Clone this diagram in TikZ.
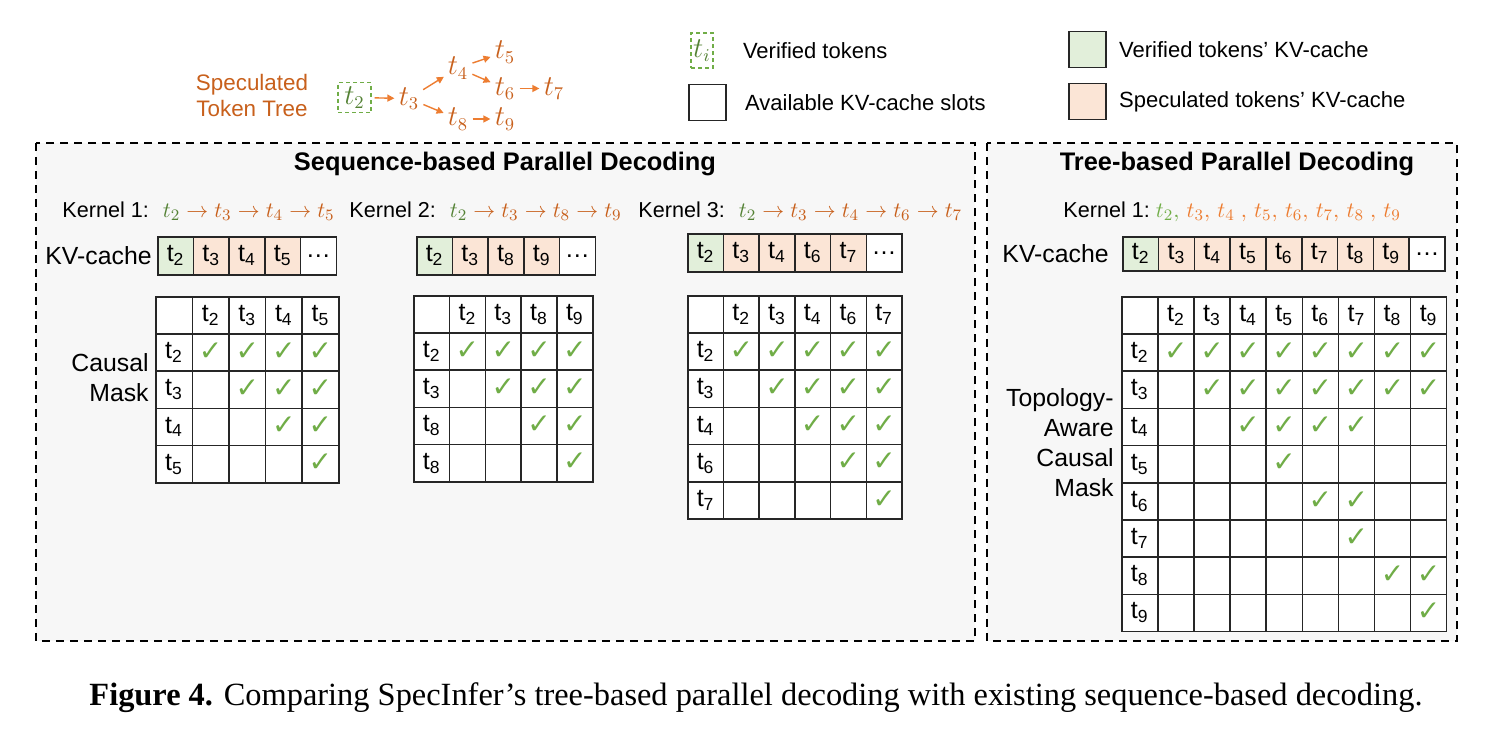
\documentclass[tikz,border=0pt]{standalone}
\usepackage{fontspec}
\setmainfont{Liberation Sans}
\newfontfamily\symfont{DejaVu Sans}
\newfontfamily\capfont{Liberation Serif}
\usetikzlibrary{positioning,arrows.meta}

\definecolor{vgreen}{HTML}{548235}
\definecolor{lgreen}{HTML}{70AD47}
\definecolor{sorange}{HTML}{C8601C}
\definecolor{lorange}{HTML}{ED7D31}
\definecolor{vfill}{HTML}{E2EFDA}
\definecolor{sfill}{HTML}{FBE5D6}
\definecolor{panelbg}{HTML}{F7F7F7}
\definecolor{gridline}{HTML}{262626}

\def\px{0.5pt}

% causal mask grid: name, x, y, cell width, column tokens, row tokens
\newcommand\maskgrid[6]{%
  \node[cell,minimum width=#4*\px] (#1-0-0) at (#2,#3) {};
  \foreach \tk [count=\cc] in {#5}
    \node[cell,minimum width=#4*\px] (#1-0-\cc) at ({#2+\cc*#4},#3) {t\textsubscript{\tk}};
  \foreach \tk [count=\rr] in {#6} {
    \node[cell,minimum width=#4*\px] (#1-\rr-0) at (#2,{#3+\rr*37.2}) {t\textsubscript{\tk}};
    \foreach \tj [count=\cc] in {#5}
      \node[cell,minimum width=#4*\px] (#1-\rr-\cc) at ({#2+\cc*#4},{#3+\rr*37.2}) {};
  }%
}
% checks on and above the diagonal
\newcommand\uppermask[2]{%
  \foreach \rr in {1,...,#2}
    \foreach \cc in {\rr,...,#2}
      \node[chk] (#1-\rr-\cc-ok) at (#1-\rr-\cc) {✓};%
}

\begin{document}
\begin{tikzpicture}[x=0.5pt,y=-0.5pt]
    \tikzset{
      panel/.style={draw,dashed,line width=1pt,dash pattern=on 4pt off 3pt,fill=panelbg},
      cell/.style={draw=gridline,line width=0.75pt,fill=white,anchor=north west,
                   minimum height=37.2*\px,inner sep=0pt,font=\fontsize{12.5}{14}\selectfont},
      kv/.style={draw=gridline,line width=0.75pt,anchor=north west,minimum width=35.7*\px,
                 minimum height=38*\px,inner sep=0pt,font=\fontsize{12.5}{14}\selectfont},
      chk/.style={text=lgreen,inner sep=0pt,yshift=0.5pt,font=\symfont\bfseries\fontsize{14}{14}\selectfont},
      title/.style={font=\bfseries\fontsize{12.7}{15}\selectfont},
      kern/.style={anchor=west,inner sep=0pt,font=\fontsize{10.8}{13}\selectfont},
      biglbl/.style={inner sep=0pt,font=\fontsize{12.4}{15}\selectfont},
      legtxt/.style={inner sep=0pt,font=\fontsize{11}{13}\selectfont},
      legbox/.style={draw=gridline,line width=0.75pt,minimum width=37*\px,minimum height=36*\px,inner sep=0pt},
      verbox/.style={draw=lgreen,dashed,line width=0.6pt,dash pattern=on 2pt off 1.5pt,inner sep=0pt},
      tok/.style={inner sep=0.5pt,text=sorange,font=\fontsize{13.5}{15}\selectfont},
      treearrow/.style={-{Triangle[length=3.5pt,width=3.5pt]},draw=lorange,line width=0.7pt,
                        shorten <=1.5pt,shorten >=1.5pt}
    }
    \useasboundingbox (0,0) rectangle (1511,739);

    % legend
    \node[tok,text=sorange,align=center,font=\fontsize{11.2}{13}\selectfont] (treelbl) at (252,95)
      {Speculated\\Token Tree};
    \node[verbox,minimum width=33*\px,minimum height=30*\px,text=vgreen,font=\fontsize{13.5}{15}\selectfont]
      (t2) at (354.5,97.5) {$t_2$};
    \node[tok] (t3) at (409,98.5) {$t_3$};
    \node[tok] (t4) at (458,68) {$t_4$};
    \node[tok] (t5) at (505,52) {$t_5$};
    \node[tok] (t6) at (505,88.5) {$t_6$};
    \node[tok] (t7) at (554,88.5) {$t_7$};
    \node[tok] (t8) at (458,119) {$t_8$};
    \node[tok] (t9) at (505,119) {$t_9$};
    \draw[treearrow] (t2) -- (t3);
    \draw[treearrow] (t3) -- (t4);
    \draw[treearrow] (t3) -- (t8);
    \draw[treearrow] (t4) -- (t5);
    \draw[treearrow] (t4) -- (t6);
    \draw[treearrow] (t6) -- (t7);
    \draw[treearrow] (t8) -- (t9);

    \node[verbox,minimum width=22*\px,minimum height=35*\px,text=vgreen,font=\fontsize{13.5}{15}\selectfont]
      (leg-ti) at (702,50.5) {$t_i$};
    \node[legtxt,right=14.5pt of leg-ti] (leg-ti-txt) {Verified tokens};
    \node[legbox,fill=white] (leg-free) at (707.5,102.5) {};
    \node[legtxt,right=9pt of leg-free] (leg-free-txt) {Available KV-cache slots};
    \node[legbox,fill=vfill] (leg-ver) at (1087.5,49.5) {};
    \node[legtxt,right=6pt of leg-ver] (leg-ver-txt) {Verified tokens’ KV-cache};
    \node[legbox,fill=sfill] (leg-spec) at (1087.5,101.5) {};
    \node[legtxt,right=6pt of leg-spec] (leg-spec-txt) {Speculated tokens’ KV-cache};

    % panels
    \draw[panel] (36,143) rectangle (975,641);
    \draw[panel] (987,143) rectangle (1457,641);
    \node[title] (seqtitle) at (505,164) {Sequence-based Parallel Decoding};
    \node[title] (treetitle) at (1237,164) {Tree-based Parallel Decoding};

    % sequence-based kernels
    \node[kern] (kern1) at (62,211) {Kernel 1:\hspace{7pt}$\color{vgreen}t_2\color{sorange}\to t_3\to t_4\to t_5$};
    \node[kern] (kern2) at (349,211) {Kernel 2:\hspace{7pt}$\color{vgreen}t_2\color{sorange}\to t_3\to t_8\to t_9$};
    \node[kern] (kern3) at (638,211) {Kernel 3:\hspace{7pt}$\color{vgreen}t_2\color{sorange}\to t_3\to t_4\to t_6\to t_7$};

    \node[kv,fill=vfill] (k1-0) at (157,236) {t\textsubscript{2}};
    \foreach \tk [count=\i] in {3,4,5}
      \node[kv,fill=sfill] (k1-\i) at ({157+\i*35.7},236) {t\textsubscript{\tk}};
    \node[kv,fill=white] (k1-4) at ({157+4*35.7},236) {…};
    \node[biglbl,left=2.5pt of k1-0] (kvlbl1) {KV-cache};

    \node[kv,fill=vfill] (k2-0) at (416,236) {t\textsubscript{2}};
    \foreach \tk [count=\i] in {3,8,9}
      \node[kv,fill=sfill] (k2-\i) at ({416+\i*35.7},236) {t\textsubscript{\tk}};
    \node[kv,fill=white] (k2-4) at ({416+4*35.7},236) {…};

    \node[kv,fill=vfill] (k3-0) at (687,233) {t\textsubscript{2}};
    \foreach \tk [count=\i] in {3,4,6,7}
      \node[kv,fill=sfill] (k3-\i) at ({687+\i*35.7},233) {t\textsubscript{\tk}};
    \node[kv,fill=white] (k3-5) at ({687+5*35.7},233) {…};

    \maskgrid{m1}{155}{296}{36.6}{2,3,4,5}{2,3,4,5}
    \uppermask{m1}{4}
    \node[biglbl,align=right,anchor=east] (mask1lbl) at (149,378) {Causal\\Mask};

    \maskgrid{m2}{413}{295}{35.8}{2,3,8,9}{2,3,8,8}
    \uppermask{m2}{4}

    \maskgrid{m3}{687}{295}{35.7}{2,3,4,6,7}{2,3,4,6,7}
    \uppermask{m3}{5}

    % tree-based kernel
    \node[kern] (kern4) at (1063,212) {Kernel 1:\hspace{3pt}$\color{lgreen}t_2,\,\color{lorange}t_3,\,t_4\ ,\,t_5,\,t_6,\,t_7,\,t_8\ ,\,t_9$};
    \node[kv,fill=vfill,minimum width=35.8*\px,minimum height=34*\px] (k4-0) at (1122,236) {t\textsubscript{2}};
    \foreach \tk [count=\i] in {3,...,9}
      \node[kv,fill=sfill,minimum width=35.8*\px,minimum height=34*\px] (k4-\i) at ({1122+\i*35.8},236) {t\textsubscript{\tk}};
    \node[kv,fill=white,minimum width=35.8*\px,minimum height=34*\px] (k4-8) at ({1122+8*35.8},236) {…};
    \node[biglbl,left=6.5pt of k4-0] (kvlbl4) {KV-cache};

    \maskgrid{m4}{1121}{296}{36.1}{2,...,9}{2,...,9}
    \foreach \rr/\cols in {1/{1,...,8},2/{2,...,8},3/{3,4,5,6},4/{4},5/{5,6},6/{6},7/{7,8},8/{8}}
      \foreach \cc in \cols
        \node[chk] (m4-\rr-\cc-ok) at (m4-\rr-\cc) {✓};
    \node[biglbl,align=right,anchor=east] (mask4lbl) at (1114,442.5) {Topology-\\Aware\\Causal\\Mask};

    \node[font=\capfont\fontsize{16.2}{19}\selectfont] (caption) at (756,698)
      {\textbf{Figure 4.} Comparing SpecInfer’s tree-based parallel decoding with existing sequence-based decoding.};
\end{tikzpicture}
\end{document}
